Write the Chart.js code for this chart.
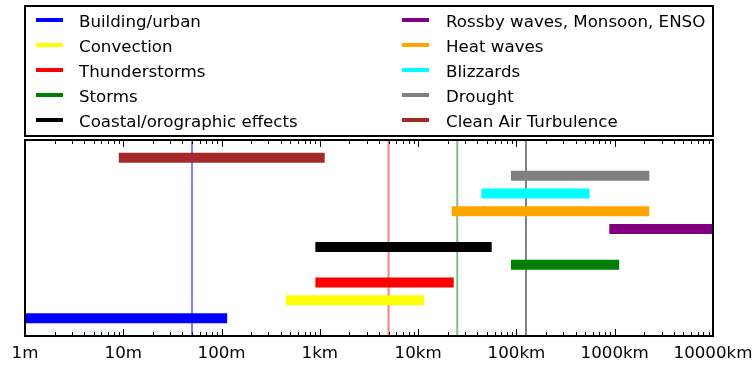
<!DOCTYPE html>
<html>
<head>
<meta charset="utf-8">
<script src="https://cdn.jsdelivr.net/npm/chart.js@4/dist/chart.umd.min.js"></script>
<style>
  html, body { margin: 0; padding: 0; background: #fff; }
  #wrap { width: 753px; height: 366px; }
</style>
</head>
<body>
<div id="wrap"><canvas id="c" width="753" height="366"></canvas></div>
<script>
// ---- data ----
const categories = ['Building/urban', 'Convection', 'Thunderstorms', 'Storms', 'Coastal/orographic effects',
                    'Rossby waves, Monsoon, ENSO', 'Heat waves', 'Blizzards', 'Drought', 'Clean Air Turbulence'];
const rangeStart = [1, 450, 900, 88000, 900, 880000, 22000, 44000, 88000, 9];        // metres
const rangeEnd   = [114, 11500, 23000, 1110000, 56000, 10000000, 2250000, 555000, 2250000, 1120]; // metres
const rowPos     = [1, 2, 3, 4, 5, 6, 7, 8, 9, 10];
const refLines   = [50, 5000, 25000, 125000];  // metres
const tickValues = [1, 10, 100, 1000, 10000, 100000, 1000000, 10000000];
const tickLabels = ['1m', '10m', '100m', '1km', '10km', '100km', '1000km', '10000km'];

// ---- styles ----
const barColors = ['#0000ff', '#ffff00', '#ff0000', '#008000', '#000000',
                   '#800080', '#ffa500', '#00ffff', '#808080', '#a52a2a'];
const refColors = ['rgba(0,0,255,0.5)', 'rgba(255,0,0,0.5)', 'rgba(0,128,0,0.5)', '#808080'];
const FONT_PX = 16.67;

Chart.defaults.font.family = "'DejaVu Sans', sans-serif";
Chart.defaults.color = '#000';

const datasets = [];
categories.forEach((name, i) => {
  datasets.push({
    label: name,
    data: [{ x: rangeStart[i], y: rowPos[i] }, { x: rangeEnd[i], y: rowPos[i] }],
    borderColor: barColors[i],
    backgroundColor: barColors[i],
    borderWidth: 10,
    borderCapStyle: 'butt',
    pointRadius: 0,
    showLine: true,
    order: 0
  });
});
refLines.forEach((v, i) => {
  datasets.push({
    label: 'ref' + i,
    data: [{ x: v, y: 0 }, { x: v, y: 11 }],
    borderColor: refColors[i],
    borderWidth: 2,
    pointRadius: 0,
    showLine: true,
    order: 1
  });
});

const framePlugin = {
  id: 'frame',
  afterDatasetsDraw(chart) {
    const { ctx, chartArea: a } = chart;
    const xs = chart.scales.x;
    ctx.save();
    ctx.strokeStyle = '#000';
    ctx.lineWidth = 1;
    for (let d = 0; d < tickValues.length; d++) {
      for (let m = 1; m <= 9; m++) {
        const v = tickValues[d] * m;
        if (v > tickValues[tickValues.length - 1]) continue;
        const px = Math.round(xs.getPixelForValue(v)) + 0.5;
        const len = m === 1 ? 7 : 4;
        ctx.beginPath();
        ctx.moveTo(px, a.bottom); ctx.lineTo(px, a.bottom - len);
        ctx.moveTo(px, a.top); ctx.lineTo(px, a.top + len);
        ctx.stroke();
      }
    }
    ctx.lineWidth = 2;
    ctx.strokeRect(a.left, a.top, a.right - a.left, a.bottom - a.top);
    ctx.restore();
  },
  afterDraw(chart) {
    const { ctx, chartArea: a } = chart;
    ctx.save();
    const top = 6, bottom = 136;
    ctx.fillStyle = '#fff';
    ctx.fillRect(a.left, top, a.right - a.left, bottom - top);
    ctx.strokeStyle = '#000';
    ctx.lineWidth = 2;
    ctx.strokeRect(a.left, top, a.right - a.left, bottom - top);
    ctx.font = FONT_PX + "px 'DejaVu Sans'";
    ctx.textBaseline = 'alphabetic';
    ctx.textAlign = 'left';
    const cols = [{ lx: 36, tx: 79 }, { lx: 402, tx: 446 }];
    categories.forEach((name, i) => {
      const col = cols[Math.floor(i / 5)];
      const y = 20 + (i % 5) * 25;
      ctx.strokeStyle = barColors[i];
      ctx.lineWidth = 4;
      ctx.beginPath();
      ctx.moveTo(col.lx, y); ctx.lineTo(col.lx + 27, y);
      ctx.stroke();
      ctx.fillStyle = '#000';
      ctx.fillText(name, col.tx, y + 6.5);
    });
    ctx.restore();
  }
};

new Chart(document.getElementById('c'), {
  type: 'scatter',
  data: { datasets },
  options: {
    responsive: false,
    animation: false,
    layout: { padding: { left: 25, right: 40, top: 140, bottom: 0 } },
    plugins: { legend: { display: false }, tooltip: { enabled: false } },
    scales: {
      x: {
        type: 'logarithmic',
        min: 1, max: 10000000,
        grid: { display: false, drawTicks: false },
        border: { display: false },
        afterBuildTicks: s => { s.ticks = tickValues.map(v => ({ value: v })); },
        afterFit: s => { s.height = 30; s.paddingLeft = 0; s.paddingRight = 0; },
        ticks: {
          autoSkip: false, maxRotation: 0, padding: 8,
          font: { size: FONT_PX }, color: '#000',
          callback: v => { const i = tickValues.indexOf(v); return i >= 0 ? tickLabels[i] : ''; }
        }
      },
      y: { type: 'linear', min: 0, max: 11, display: false }
    }
  },
  plugins: [framePlugin]
});
</script>
</body>
</html>
